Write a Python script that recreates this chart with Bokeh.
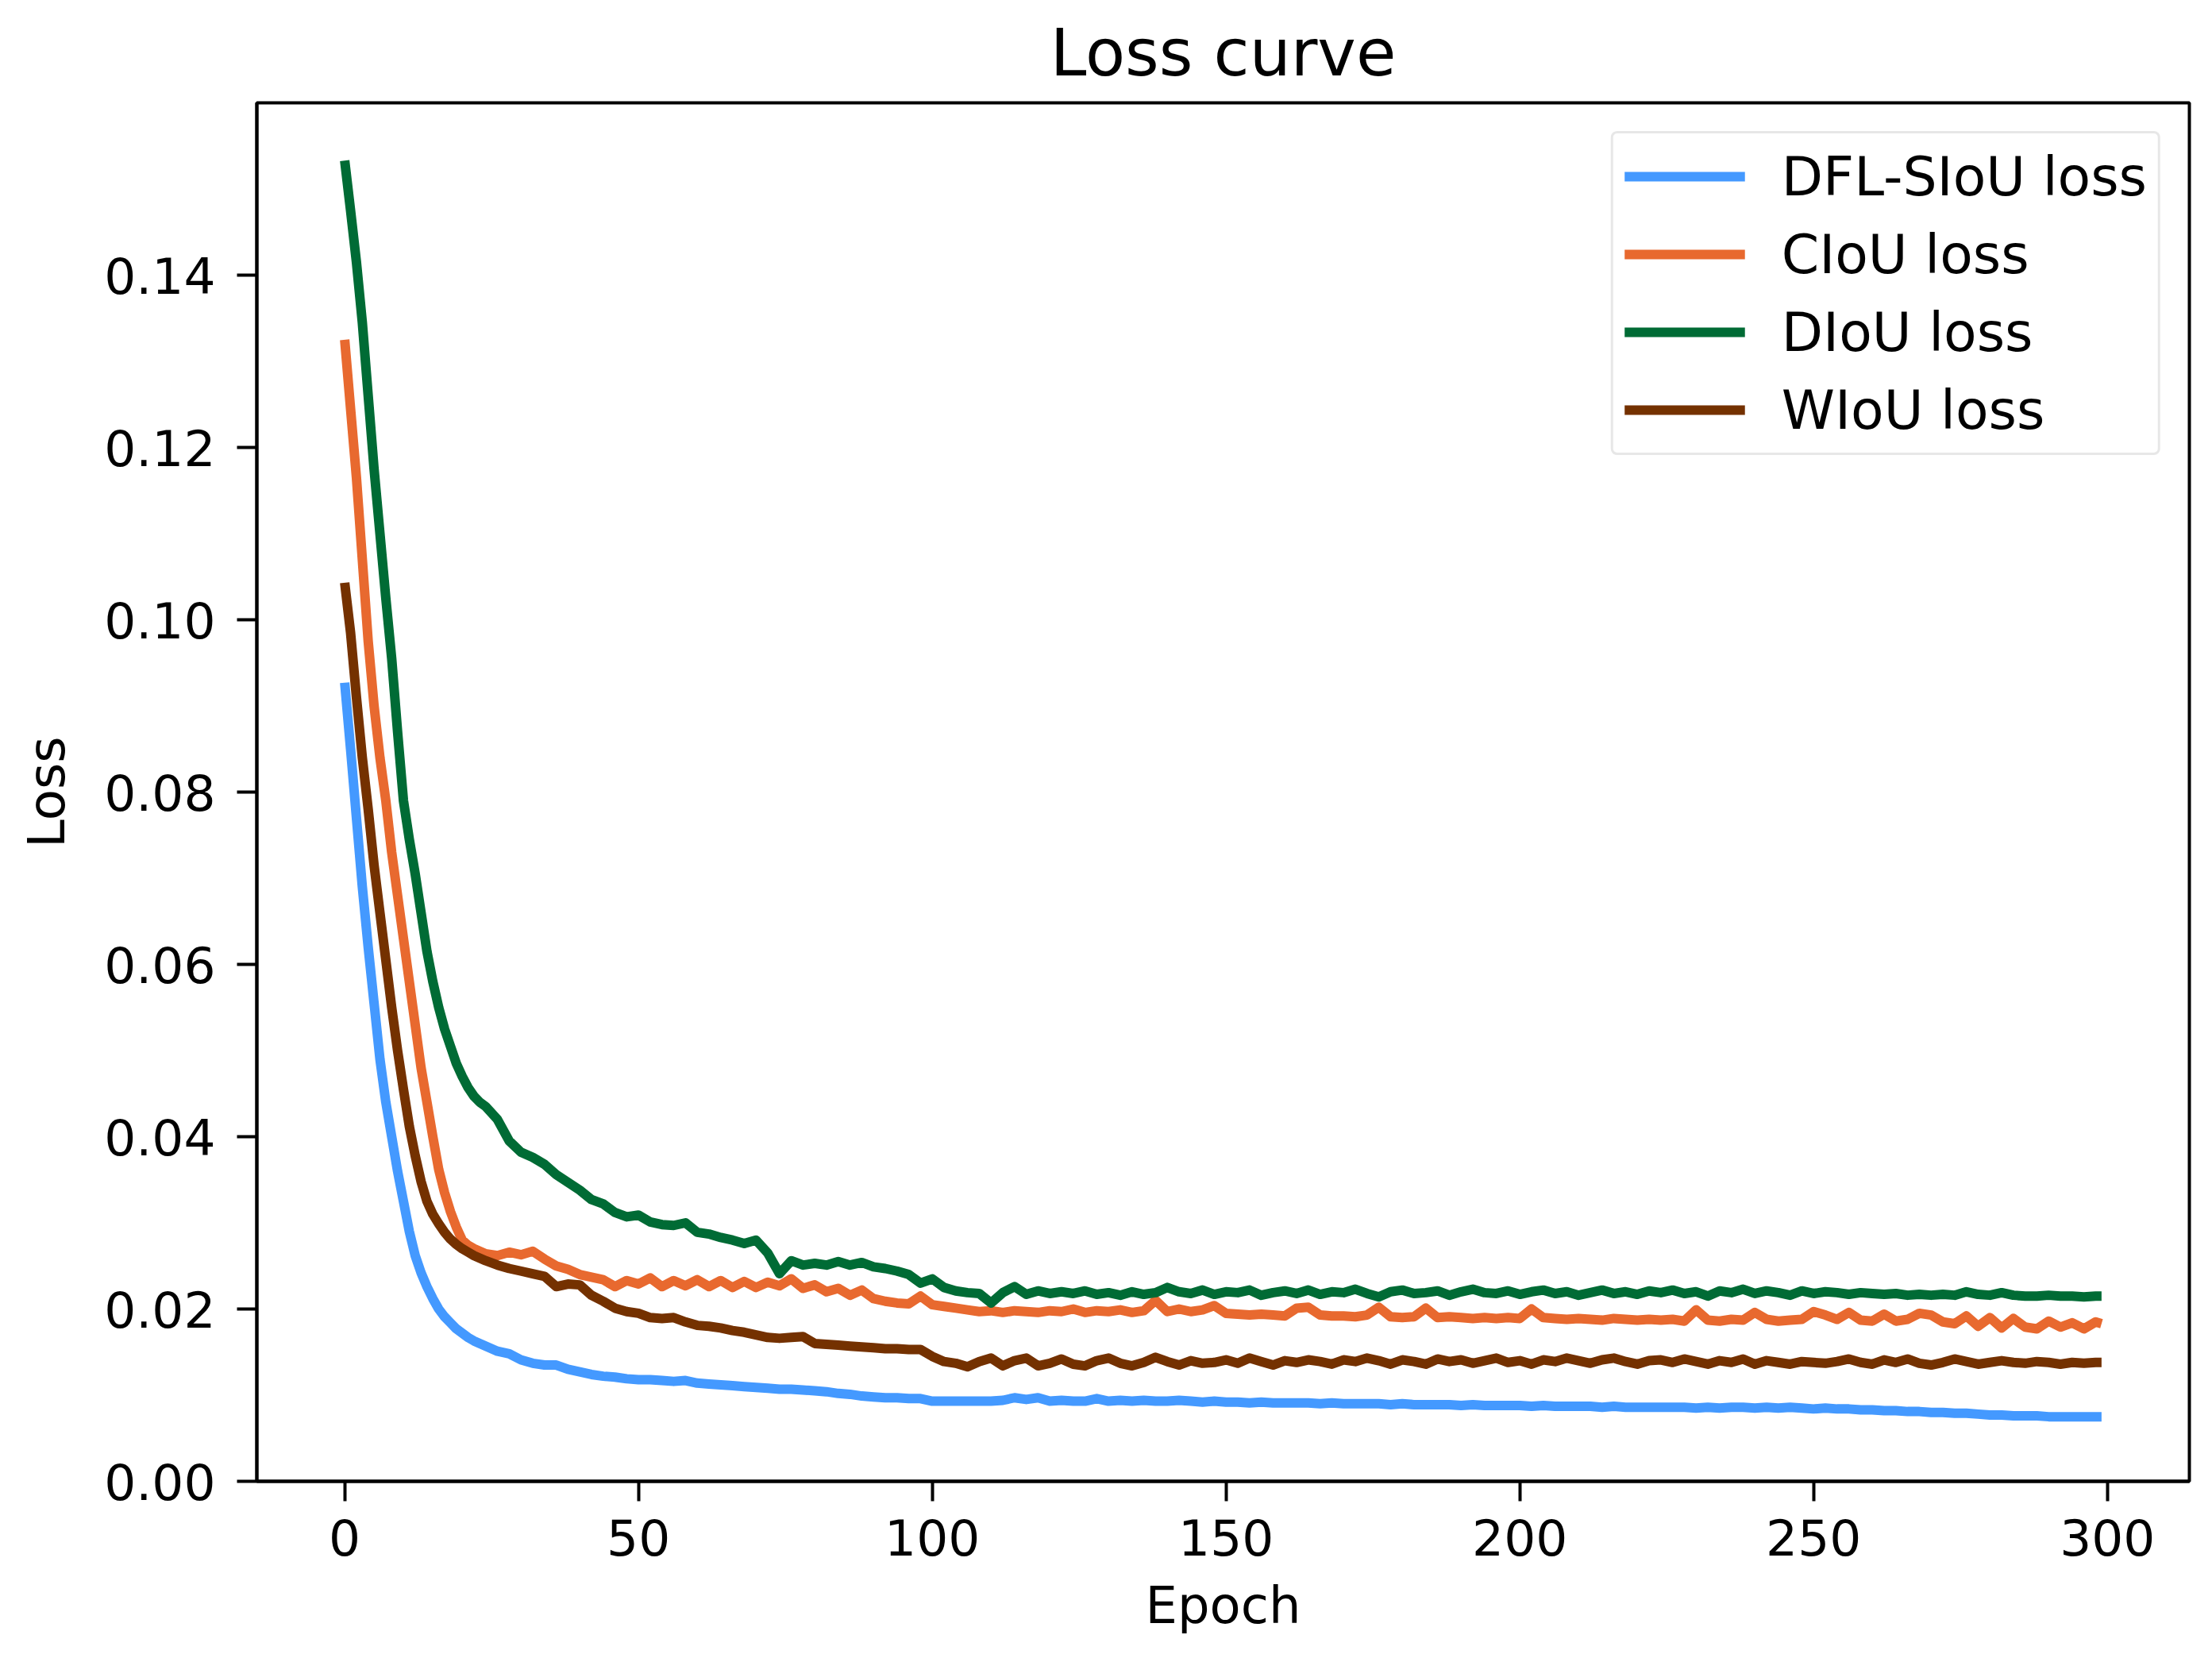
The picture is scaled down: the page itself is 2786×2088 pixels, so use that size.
from bokeh.embed import file_html
from bokeh.resources import INLINE
from bokeh.models import Range1d, FixedTicker, Legend, LegendItem, NumeralTickFormatter
from bokeh.plotting import figure

# epochs: every epoch at the start, then every second epoch
epochs = list(range(0, 24)) + list(range(24, 299, 2)) + [299]

dfl_siou = [
    0.0927, 0.0850, 0.0770, 0.0690, 0.0620, 0.0555, 0.0490, 0.0440, 0.0400, 0.0360, 0.0325, 0.0290,
    0.0262, 0.0242, 0.0226, 0.0212, 0.0200, 0.0191, 0.0184, 0.0177, 0.0172, 0.0167, 0.0163, 0.0160,
    0.0157, 0.0151, 0.0148, 0.0141, 0.0137, 0.0135, 0.0135, 0.0130, 0.0127, 0.0124,
    0.0122, 0.0121, 0.0119, 0.0118, 0.0118, 0.0117, 0.0116, 0.0117, 0.0114, 0.0113,
    0.0112, 0.0111, 0.0110, 0.0109, 0.0108, 0.0107, 0.0107, 0.0106, 0.0105, 0.0104,
    0.0102, 0.0101, 0.0099, 0.0098, 0.0097, 0.0097, 0.0096, 0.0096, 0.0093, 0.0093,
    0.0093, 0.0093, 0.0093, 0.0093, 0.0094, 0.0097, 0.0095, 0.0097, 0.0093, 0.0094,
    0.0093, 0.0093, 0.0096, 0.0093, 0.0094, 0.0093, 0.0094, 0.0093, 0.0093, 0.0094,
    0.0093, 0.0092, 0.0093, 0.0092, 0.0092, 0.0091, 0.0092, 0.0091, 0.0091, 0.0091,
    0.0091, 0.0090, 0.0091, 0.0090, 0.0090, 0.0090, 0.0090, 0.0089, 0.0090, 0.0089,
    0.0089, 0.0089, 0.0089, 0.0088, 0.0089, 0.0088, 0.0088, 0.0088, 0.0088, 0.0087,
    0.0088, 0.0087, 0.0087, 0.0087, 0.0087, 0.0086, 0.0087, 0.0086, 0.0086, 0.0086,
    0.0086, 0.0086, 0.0086, 0.0085, 0.0086, 0.0085, 0.0086, 0.0086, 0.0085, 0.0086,
    0.0085, 0.0086, 0.0085, 0.0084, 0.0085, 0.0084, 0.0084, 0.0083, 0.0083, 0.0082,
    0.0082, 0.0081, 0.0081, 0.0080, 0.0080, 0.0079, 0.0079, 0.0078, 0.0077, 0.0077,
    0.0076, 0.0076, 0.0076, 0.0075, 0.0075, 0.0075, 0.0075, 0.0075,
    0.0075,
]

ciou = [
    0.1325, 0.1245, 0.1165, 0.1070, 0.0975, 0.0900, 0.0840, 0.0790, 0.0730, 0.0680, 0.0630, 0.0580,
    0.0530, 0.0480, 0.0440, 0.0400, 0.0362, 0.0335, 0.0313, 0.0295, 0.0280, 0.0274, 0.0270, 0.0267,
    0.0264, 0.0262, 0.0266, 0.0263, 0.0267, 0.0258, 0.0250, 0.0246, 0.0240, 0.0237,
    0.0234, 0.0226, 0.0233, 0.0229, 0.0236, 0.0226, 0.0233, 0.0227, 0.0234, 0.0226,
    0.0233, 0.0225, 0.0232, 0.0225, 0.0231, 0.0227, 0.0235, 0.0224, 0.0228, 0.0220,
    0.0224, 0.0216, 0.0222, 0.0212, 0.0209, 0.0207, 0.0206, 0.0215, 0.0205, 0.0203,
    0.0201, 0.0199, 0.0197, 0.0198, 0.0196, 0.0198, 0.0197, 0.0196, 0.0198, 0.0197,
    0.0200, 0.0196, 0.0198, 0.0197, 0.0199, 0.0196, 0.0198, 0.0210, 0.0197, 0.0200,
    0.0197, 0.0199, 0.0204, 0.0195, 0.0194, 0.0193, 0.0194, 0.0193, 0.0192, 0.0201,
    0.0202, 0.0193, 0.0192, 0.0192, 0.0191, 0.0193, 0.0202, 0.0191, 0.0190, 0.0191,
    0.0201, 0.0190, 0.0191, 0.0190, 0.0189, 0.0190, 0.0189, 0.0190, 0.0189, 0.0200,
    0.0190, 0.0189, 0.0188, 0.0189, 0.0188, 0.0187, 0.0189, 0.0188, 0.0187, 0.0188,
    0.0187, 0.0188, 0.0186, 0.0199, 0.0187, 0.0186, 0.0188, 0.0187, 0.0196, 0.0188,
    0.0186, 0.0187, 0.0188, 0.0197, 0.0193, 0.0188, 0.0196, 0.0187, 0.0186, 0.0194,
    0.0186, 0.0188, 0.0195, 0.0193, 0.0185, 0.0183, 0.0192, 0.0180, 0.0190, 0.0178,
    0.0189, 0.0179, 0.0177, 0.0186, 0.0179, 0.0184, 0.0177, 0.0185,
    0.0183,
]

diou = [
    0.1533, 0.1475, 0.1415, 0.1345, 0.1260, 0.1175, 0.1100, 0.1025, 0.0955, 0.0870, 0.0790, 0.0745,
    0.0705, 0.0660, 0.0615, 0.0580, 0.0550, 0.0525, 0.0505, 0.0485, 0.0470, 0.0457, 0.0447, 0.0440,
    0.0435, 0.0420, 0.0395, 0.0382, 0.0376, 0.0368, 0.0356, 0.0347, 0.0338, 0.0327,
    0.0322, 0.0312, 0.0307, 0.0309, 0.0301, 0.0298, 0.0297, 0.0300, 0.0289, 0.0287,
    0.0283, 0.0280, 0.0276, 0.0280, 0.0265, 0.0241, 0.0256, 0.0251, 0.0253, 0.0251,
    0.0255, 0.0251, 0.0254, 0.0249, 0.0247, 0.0244, 0.0240, 0.0230, 0.0235, 0.0225,
    0.0221, 0.0219, 0.0218, 0.0207, 0.0219, 0.0226, 0.0217, 0.0221, 0.0218, 0.0220,
    0.0218, 0.0221, 0.0217, 0.0219, 0.0216, 0.0220, 0.0217, 0.0219, 0.0225, 0.0220,
    0.0218, 0.0222, 0.0217, 0.0220, 0.0219, 0.0222, 0.0216, 0.0219, 0.0221, 0.0218,
    0.0222, 0.0217, 0.0220, 0.0219, 0.0223, 0.0218, 0.0214, 0.0220, 0.0222, 0.0218,
    0.0219, 0.0221, 0.0216, 0.0220, 0.0223, 0.0219, 0.0218, 0.0221, 0.0217, 0.0220,
    0.0222, 0.0218, 0.0220, 0.0216, 0.0219, 0.0222, 0.0218, 0.0220, 0.0217, 0.0221,
    0.0219, 0.0222, 0.0218, 0.0220, 0.0215, 0.0221, 0.0219, 0.0223, 0.0218, 0.0221,
    0.0219, 0.0216, 0.0221, 0.0218, 0.0220, 0.0219, 0.0217, 0.0219, 0.0218, 0.0217,
    0.0218, 0.0216, 0.0217, 0.0216, 0.0217, 0.0216, 0.0220, 0.0217, 0.0216, 0.0219,
    0.0216, 0.0215, 0.0215, 0.0216, 0.0215, 0.0215, 0.0214, 0.0215,
    0.0215,
]

wiou = [
    0.1043, 0.0985, 0.0910, 0.0840, 0.0780, 0.0715, 0.0660, 0.0605, 0.0550, 0.0500, 0.0455, 0.0412,
    0.0378, 0.0348, 0.0325, 0.0310, 0.0299, 0.0289, 0.0281, 0.0275, 0.0270, 0.0266, 0.0262, 0.0259,
    0.0256, 0.0251, 0.0247, 0.0244, 0.0241, 0.0238, 0.0226, 0.0229, 0.0228, 0.0216,
    0.0209, 0.0201, 0.0197, 0.0195, 0.0190, 0.0189, 0.0190, 0.0185, 0.0181, 0.0180,
    0.0178, 0.0175, 0.0173, 0.0170, 0.0167, 0.0166, 0.0167, 0.0168, 0.0160, 0.0159,
    0.0158, 0.0157, 0.0156, 0.0155, 0.0154, 0.0154, 0.0153, 0.0153, 0.0145, 0.0139,
    0.0137, 0.0133, 0.0139, 0.0143, 0.0134, 0.0140, 0.0143, 0.0134, 0.0137, 0.0142,
    0.0136, 0.0134, 0.0140, 0.0143, 0.0137, 0.0134, 0.0138, 0.0144, 0.0139, 0.0135,
    0.0140, 0.0137, 0.0138, 0.0141, 0.0137, 0.0143, 0.0139, 0.0135, 0.0140, 0.0138,
    0.0141, 0.0139, 0.0136, 0.0141, 0.0139, 0.0143, 0.0140, 0.0136, 0.0141, 0.0139,
    0.0136, 0.0142, 0.0139, 0.0141, 0.0137, 0.0140, 0.0143, 0.0138, 0.0140, 0.0136,
    0.0141, 0.0139, 0.0143, 0.0140, 0.0137, 0.0141, 0.0143, 0.0139, 0.0136, 0.0140,
    0.0141, 0.0138, 0.0142, 0.0139, 0.0136, 0.0140, 0.0138, 0.0142, 0.0136, 0.0140,
    0.0138, 0.0136, 0.0139, 0.0138, 0.0137, 0.0139, 0.0142, 0.0138, 0.0136, 0.0141,
    0.0138, 0.0142, 0.0137, 0.0135, 0.0138, 0.0142, 0.0139, 0.0136, 0.0138, 0.0140,
    0.0138, 0.0137, 0.0139, 0.0138, 0.0136, 0.0138, 0.0137, 0.0138,
    0.0138,
]

series_names = ["DFL-SIoU loss", "CIoU loss", "DIoU loss", "WIoU loss"]
series_colors = ["#4499ff", "#e8692f", "#006b35", "#743100"]
x_ticks = [0, 50, 100, 150, 200, 250, 300]
y_ticks = [0.0, 0.02, 0.04, 0.06, 0.08, 0.10, 0.12, 0.14]

FONT = "DejaVu Sans"

p = figure(width=2770, height=2072, output_backend="svg", toolbar_location=None,
           x_range=Range1d(-14.95, 313.95), y_range=Range1d(0, 0.16),
           min_border_left=323, min_border_right=13, min_border_top=129, min_border_bottom=207)
p.background_fill_color = "white"
p.border_fill_color = "white"
p.grid.visible = False
p.outline_line_color = "black"
p.outline_line_width = 4

p.title.text = "Loss curve"
p.title.align = "center"
p.title.text_font = FONT
p.title.text_font_size = "82px"
p.title.text_font_style = "normal"
p.title.text_color = "black"
p.title.standoff = 31

p.xaxis.ticker = FixedTicker(ticks=x_ticks)
p.yaxis.ticker = FixedTicker(ticks=y_ticks)
p.yaxis.formatter = NumeralTickFormatter(format="0.00")
p.xaxis.axis_label = "Epoch"
p.yaxis.axis_label = "Loss"
for ax in (p.xaxis, p.yaxis):
    ax.axis_line_width = 4
    ax.axis_line_color = "black"
    ax.major_tick_line_width = 4
    ax.major_tick_line_color = "black"
    ax.major_tick_out = 25
    ax.major_tick_in = 0
    ax.minor_tick_line_color = None
    ax.major_label_text_font = FONT
    ax.major_label_text_font_size = "63px"
    ax.major_label_text_color = "black"
    ax.axis_label_text_font = FONT
    ax.axis_label_text_font_size = "64px"
    ax.axis_label_text_font_style = "normal"
    ax.axis_label_text_color = "black"
p.xaxis.major_label_standoff = 22
p.yaxis.major_label_standoff = 27
p.xaxis.axis_label_standoff = 23
p.yaxis.axis_label_standoff = 32

items = []
for name, color, ys in zip(series_names, series_colors, [dfl_siou, ciou, diou, wiou]):
    r = p.line(epochs, ys, line_color=color, line_width=12, line_join="round")
    items.append(LegendItem(label=name, renderers=[r]))

legend = Legend(items=items, location="top_right", margin=36, padding=14, spacing=18,
                glyph_width=152, glyph_height=80, label_height=80, label_standoff=46,
                label_text_font=FONT, label_text_font_size="68px", label_text_color="black",
                border_line_color="#d0d0d0", border_line_width=3, border_radius=8,
                background_fill_color="white", background_fill_alpha=0.8)
p.add_layout(legend, "center")

open("out.html", "w").write(file_html(p, INLINE))
